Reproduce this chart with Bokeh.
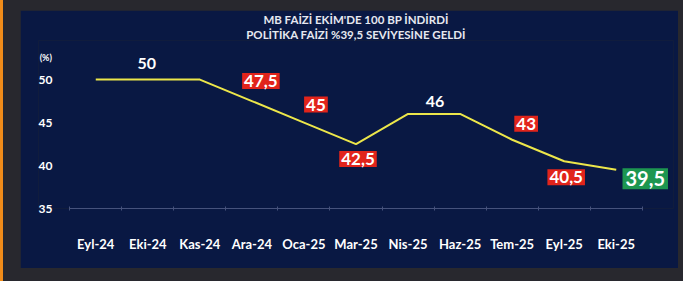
from bokeh.plotting import figure
from bokeh.models import (FactorRange, Range1d, LinearAxis, CategoricalAxis,
                          FixedTicker, Label, Title)
from bokeh.layouts import column
from bokeh.embed import file_html
from bokeh.resources import INLINE

# ---- data ----
months = ["Eyl-24", "Eki-24", "Kas-24", "Ara-24", "Oca-25", "Mar-25",
          "Nis-25", "Haz-25", "Tem-25", "Eyl-25", "Eki-25"]
rates = [50, 50, 50, 47.5, 45, 42.5, 46, 46, 43, 40.5, 39.5]
title_lines = ["MB FAİZİ EKİM'DE 100 BP İNDİRDİ",
               "POLİTİKA FAİZİ %39,5 SEVİYESİNE GELDİ"]
unit_label = "(%)"
y_ticks = [35, 40, 45, 50]

# which points carry a value label, and how it is drawn
label_idx = [1, 3, 4, 5, 6, 8, 9, 10]
label_kind = ["plain", "red", "red", "red", "plain", "red", "red", "green"]
label_dx = [-1, 9, 12, 2, 27, 14, 2, 29]
label_dy = [16, 20, 18, -15, 12, 16, -16, -9]

# ---- styles ----
NAVY = "#091843"
OUTER = "#28282e"
FONT = "Lato"
PAD = 0.6
box_color = {"plain": None, "red": "#e1241b", "green": "#1d9650"}
box_font = {"plain": "16px", "red": "17px", "green": "20px"}
box_pad = {"plain": 0, "red": 2, "green": 3}


def fmt(v):
    return f"{v:g}".replace(".", ",")


p = figure(x_range=FactorRange(*months, range_padding=PAD,
                               range_padding_units="absolute"),
           y_range=Range1d(35, 54.55),
           width=658, height=258, output_backend="svg", toolbar_location=None,
           x_axis_location=None, y_axis_location="left",
           min_border_left=18, min_border_right=5, min_border_top=30,
           min_border_bottom=60)
p.margin = (10, 5, 13, 20)
p.background_fill_color = NAVY
p.border_fill_color = NAVY
p.outline_line_color = None
p.grid.visible = False

# titles: p.title is the outer one, the added Title sits next to the plot
p.title.text = title_lines[0]
p.title.align = "center"
p.title.text_font = FONT
p.title.text_font_size = "11.5px"
p.title.text_font_style = "bold"
p.title.text_color = "#e6e8f0"
p.title.offset = -6
p.title.standoff = 0
t2 = Title(text=title_lines[1], align="center", text_font=FONT,
           text_font_size="11.5px", text_font_style="bold",
           text_color="#e6e8f0", offset=-6, standoff=0)
p.add_layout(t2, "above")

# y axis (labels tucked inside the padded frame area)
ya = p.yaxis[0]
ya.ticker = FixedTicker(ticks=y_ticks)
ya.axis_line_color = None
ya.major_tick_line_color = None
ya.minor_tick_line_color = None
ya.major_label_standoff = -20
ya.major_label_text_color = "white"
ya.major_label_text_font = FONT
ya.major_label_text_font_size = "12px"
ya.major_label_text_font_style = "bold"

# x axis: ticks on category boundaries (synthetic coords 0..n) + category labels
bnd = LinearAxis(ticker=FixedTicker(ticks=list(range(len(months) + 1))),
                 bounds=(0, len(months)))
bnd.axis_line_color = "#46527c"
bnd.major_tick_line_color = "#46527c"
bnd.major_tick_in = 2
bnd.major_tick_out = 2
bnd.minor_tick_line_color = None
bnd.major_label_text_font_size = "0px"
bnd.major_label_text_alpha = 0
bnd.major_label_standoff = 0
p.add_layout(bnd, "below")

xa = CategoricalAxis()
xa.axis_line_color = None
xa.major_tick_line_color = None
xa.major_label_standoff = 19
xa.major_label_text_color = "white"
xa.major_label_text_font = FONT
xa.major_label_text_font_size = "13px"
xa.major_label_text_font_style = "bold"
p.add_layout(xa, "below")

# line
p.line(months, rates, line_color="#ece64a", line_width=2)

# unit label (synthetic categorical coordinate left of the first month)
p.add_layout(Label(x=-0.46, y=52.6, text=unit_label, text_align="center",
                   text_baseline="middle", text_color="white", text_font=FONT,
                   text_font_size="9px", text_font_style="bold"))

# value labels (synthetic categorical coordinate = index + 0.5)
for i, kind, dx, dy in zip(label_idx, label_kind, label_dx, label_dy):
    lab = Label(x=i + 0.5, y=rates[i], text=fmt(rates[i]),
                x_offset=dx, y_offset=dy, text_align="center",
                text_baseline="middle", text_color="white", text_font=FONT,
                text_font_size=box_font[kind], text_font_style="bold",
                background_fill_color=box_color[kind],
                padding=box_pad[kind])
    p.add_layout(lab)

page = column(p, styles={"background-color": OUTER,
                         "box-shadow": "inset 3px 0 0 #f08c1a"})

open("out.html", "w").write(file_html(page, INLINE))
